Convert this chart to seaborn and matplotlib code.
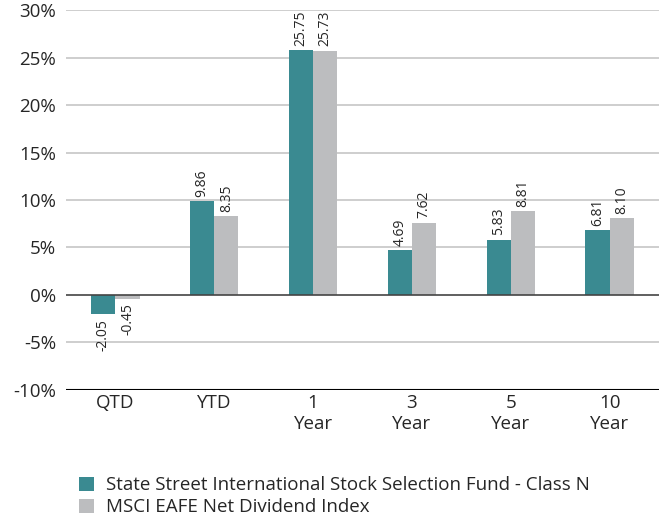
import numpy as np
import pandas as pd
import seaborn as sns
import matplotlib.pyplot as plt

# data
periods = ["QTD", "YTD", "1\nYear", "3\nYear", "5\nYear", "10\nYear"]
fund_name = "State Street International Stock Selection Fund - Class N"
index_name = "MSCI EAFE Net Dividend Index"
fund_returns = [-2.05, 9.86, 25.75, 4.69, 5.83, 6.81]
index_returns = [-0.45, 8.35, 25.73, 7.62, 8.81, 8.10]
fund_labels = ["-2.05", "9.86", "25.75", "4.69", "5.83", "6.81"]
index_labels = ["-0.45", "8.35", "25.73", "7.62", "8.81", "8.10"]
y_ticks = [-10, -5, 0, 5, 10, 15, 20, 25, 30]

df = pd.DataFrame({
    "period": periods * 2,
    "value": fund_returns + index_returns,
    "series": [fund_name] * len(periods) + [index_name] * len(periods),
})

sns.set_style("white")
plt.rcParams['font.family'] = ['Open Sans', 'DejaVu Sans']

fig = plt.figure(figsize=(6.68, 5.19), dpi=100)
ax = fig.add_axes([0.0988, 0.2486, 0.8877, 0.7321])

# gridlines behind the bars
for t in y_ticks:
    if t == 0:
        ax.axhline(t, color="#444444", lw=1.2, zorder=3)
    elif t == -10:
        ax.axhline(t, color="black", lw=1.5, zorder=3)
    else:
        ax.axhline(t, color="#c6c6c6", lw=1.2, zorder=0)

sns.barplot(data=df, x="period", y="value", hue="series",
            palette=["#3a8a91", "#bcbdbf"], width=0.49, gap=0,
            saturation=1, linewidth=0, ax=ax, legend=True, zorder=2)

for cont, labs in zip(ax.containers, [fund_labels, index_labels]):
    ax.bar_label(cont, labels=labs, rotation=90, padding=3, fontsize=10)

ax.set_ylim(-10, 30)
ax.set_xlim(-0.5, 5.5)
ax.set_yticks(y_ticks)
ax.set_yticklabels([f"{t}%" for t in y_ticks], fontsize=13.5)
ax.tick_params(axis="x", labelsize=13.5, length=0, pad=3)
ax.tick_params(axis="y", length=0, pad=7)
ax.set_xlabel("")
ax.set_ylabel("")
sns.despine(ax=ax, left=True, bottom=True)

handles, labels = ax.get_legend_handles_labels()
ax.get_legend().remove()
fig.legend(handles, labels, loc="upper left", bbox_to_anchor=(0.118, 0.082),
           frameon=False, fontsize=13.5, handlelength=0.8, handleheight=0.8,
           handletextpad=0.65, labelspacing=0.2, borderpad=0, borderaxespad=0)

fig.savefig("out.png", dpi=100)
